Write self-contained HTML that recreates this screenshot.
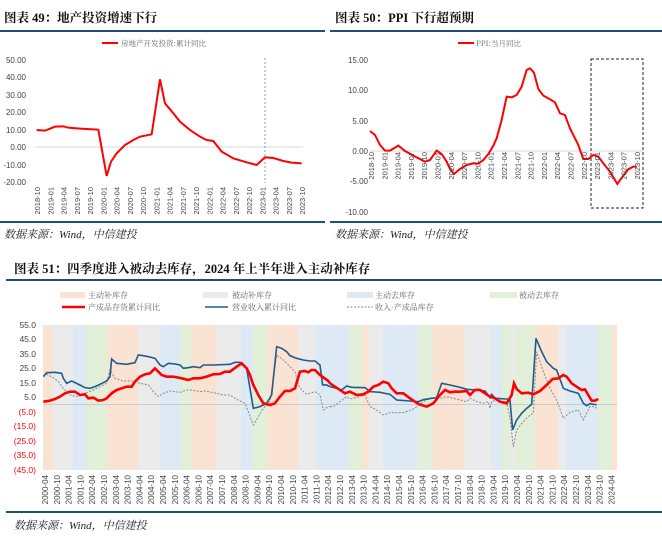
<!DOCTYPE html>
<html><head><meta charset="utf-8"><style>
body{margin:0;background:#fff;width:662px;height:538px;overflow:hidden}
svg{display:block;font-family:"Liberation Sans","Noto Sans CJK SC",sans-serif}
.t{font-family:"Liberation Serif","Noto Serif CJK SC",serif;font-weight:bold;font-size:12.5px;fill:#111}
.s{font-family:"Liberation Serif","Noto Serif CJK SC",serif;font-style:italic;font-size:11px;fill:#222}
.ax{font-size:8px;fill:#444}
.lg{font-size:8px;fill:#666;font-family:"Noto Serif CJK SC",serif}
</style></head><body>
<svg width="662" height="538" viewBox="0 0 662 538">
<!-- Chart 49 -->
<text class="t" x="4" y="22">图表 49：地产投资增速下行</text>
<line x1="0" y1="31" x2="325" y2="31" stroke="#1f4e79" stroke-width="2"/>
<line x1="102" y1="43" x2="118" y2="43" stroke="#f00" stroke-width="2"/>
<text class="lg" x="121" y="46" style="font-size:7.5px">房地产开发投资:累计同比</text>
<g class="ax" text-anchor="end">
<text x="26" y="63">50.00</text><text x="26" y="80">40.00</text><text x="26" y="98">30.00</text><text x="26" y="115">20.00</text><text x="26" y="133">10.00</text><text x="26" y="150">0.00</text><text x="26" y="168">-10.00</text><text x="26" y="185">-20.00</text>
</g>
<line x1="35" y1="147" x2="303" y2="147" stroke="#d9d9d9"/>
<line x1="265" y1="58" x2="265" y2="183" stroke="#999" stroke-dasharray="2,2"/>
<g transform="scale(0.3333)"><polyline fill="none" stroke="#f00" stroke-width="2" vector-effect="non-scaling-stroke" points="110,390 135,392 165,380 190,379 205,383 230,385 260,387 295,389 320,528 333,485 350,460 375,435 400,420 420,410 455,403 480,238 495,310 520,340 540,365 570,390 600,410 620,420 640,423 665,455 700,475 740,487 770,495 795,472 820,474 850,483 875,488 905,490"/></g>
<g class="ax" id="x1"></g>
<line x1="0" y1="222" x2="325" y2="222" stroke="#1f4e79" stroke-width="2"/>
<text class="s" x="4" y="238">数据来源：Wind，中信建投</text>

<!-- Chart 50 -->
<text class="t" x="335" y="22">图表 50：PPI 下行超预期</text>
<line x1="330" y1="31" x2="662" y2="31" stroke="#1f4e79" stroke-width="2"/>
<line x1="458" y1="43" x2="474" y2="43" stroke="#f00" stroke-width="2"/>
<text class="lg" x="476" y="46" style="font-size:7.5px">PPI:当月同比</text>
<g class="ax" text-anchor="end">
<text x="368" y="63">15.00</text><text x="368" y="93">10.00</text><text x="368" y="124">5.00</text><text x="368" y="154">0.00</text><text x="368" y="184">-5.00</text><text x="368" y="215">-10.00</text>
</g>
<line x1="370" y1="151" x2="643" y2="151" stroke="#d9d9d9"/>
<rect x="591" y="59" width="52" height="149" fill="none" stroke="#222" stroke-dasharray="3,2"/>
<g transform="translate(330,0) scale(0.3333)"><polyline fill="none" stroke="#f00" stroke-width="2" vector-effect="non-scaling-stroke" points="120,393 135,405 150,435 165,452 180,452 205,437 225,453 250,467 285,485 300,480 320,452 335,462 350,485 360,507 372,522 390,507 410,495 430,490 445,491 460,480 475,462 490,437 500,415 515,360 530,290 545,292 560,285 575,260 590,210 600,205 612,218 625,267 640,287 655,295 675,307 690,340 705,345 720,385 735,415 745,435 760,477 775,477 790,465 805,470 820,490 840,515 862,552 880,527 895,508 910,500 920,500"/></g>
<g class="ax" id="x2"></g>
<line x1="330" y1="222" x2="662" y2="222" stroke="#1f4e79" stroke-width="2"/>
<text class="s" x="335" y="238">数据来源：Wind，中信建投</text>

<!-- Chart 51 -->
<text class="t" x="14" y="273">图表 51：四季度进入被动去库存，2024 年上半年进入主动补库存</text>
<line x1="6" y1="280" x2="662" y2="280" stroke="#1f4e79" stroke-width="2"/>
<g id="bands"></g>
<line x1="43" y1="404.5" x2="617" y2="404.5" stroke="#ccc"/>
<g transform="translate(0,255) scale(0.3333)" fill="none" vector-effect="non-scaling-stroke">
<polyline stroke="#888" stroke-width="1" stroke-dasharray="2,1.5" vector-effect="non-scaling-stroke" points="130,365 140,358 160,368 175,380 190,400 210,420 230,425 245,418 260,413 280,405 300,395 320,385 330,345 345,370 370,378 400,378 420,385 445,390 460,410 475,425 490,415 510,408 540,412 560,405 575,405 600,410 615,408 640,413 670,420 690,420 710,433 735,445 745,470 760,510 775,485 790,460 810,440 830,300 850,315 870,335 885,350 895,390 905,405 920,418 945,410 960,420 970,465 985,455 990,455"/>
<polyline stroke="#1f5c8b" stroke-width="1.6" vector-effect="non-scaling-stroke" points="130,365 140,353 165,352 185,355 190,370 200,385 215,378 240,390 255,398 270,400 285,395 300,388 320,378 330,365 335,312 350,325 380,328 395,325 405,323 415,300 430,302 445,305 465,310 480,330 490,335 505,325 525,327 540,330 550,340 565,338 580,335 600,338 610,330 640,330 690,328 705,322 720,322 740,340 760,460 780,455 800,445 815,420 830,275 845,280 860,290 870,302 890,310 910,315 930,318 945,318 960,330 968,390 980,390 990,395"/>
<polyline stroke="#f00" stroke-width="2.6" vector-effect="non-scaling-stroke" points="130,440 150,437 165,432 180,425 195,415 210,410 225,410 240,420 255,418 265,430 280,428 295,437 310,435 320,430 335,415 350,405 365,400 380,395 395,395 405,380 420,365 435,358 450,355 465,340 475,350 485,360 500,365 520,365 545,370 565,375 580,370 600,370 620,365 640,358 660,357 675,350 690,350 710,335 725,325 740,340 750,360 760,390 775,420 790,445 810,450 825,445 840,425 855,408 870,408 885,400 900,350 915,348 925,352 935,345 945,345 960,360 985,378 990,385"/>
</g>
<g transform="translate(330,255) scale(0.3333)" fill="none">
<polyline stroke="#888" stroke-width="1" stroke-dasharray="2,1.5" vector-effect="non-scaling-stroke" points="0,455 10,455 30,440 50,425 60,432 90,425 105,420 120,455 140,465 160,480 180,473 220,473 245,465 260,455 280,440 305,428 330,430 350,425 370,430 390,435 410,440 420,430 440,440 460,445 475,440 480,460 485,440 500,435 515,440 530,440 540,490 550,575 560,525 580,500 600,480 610,475 620,290 640,350 660,400 680,435 700,490 720,472 745,465 760,495 770,475 780,455 795,455 800,460"/>
<polyline stroke="#1f5c8b" stroke-width="1.6" vector-effect="non-scaling-stroke" points="0,395 20,400 35,405 50,393 65,397 105,398 120,410 150,412 180,418 200,435 240,438 265,440 280,434 305,430 320,428 335,385 360,390 390,397 410,403 440,405 465,408 480,428 485,418 495,430 530,432 540,435 548,525 560,495 575,475 590,460 605,448 618,250 635,290 650,320 670,340 680,345 700,400 720,408 745,415 760,445 770,452 780,446 790,448 800,449"/>
<polyline stroke="#f00" stroke-width="2.6" vector-effect="non-scaling-stroke" points="0,385 15,395 45,415 60,410 80,420 100,418 115,410 130,395 145,390 160,380 175,385 185,400 200,415 220,415 240,430 265,447 290,455 310,445 330,420 345,405 360,412 375,410 390,410 410,408 420,420 435,405 450,405 465,415 480,425 495,430 510,440 530,445 545,420 552,385 560,402 575,415 595,413 610,418 630,408 650,390 668,372 685,370 700,360 710,365 725,385 740,395 755,405 765,403 775,420 785,437 795,437 805,432"/>
</g>
<g class="ax" style="font-size:8.5px" text-anchor="end">
<text x="36" y="328">55.0</text><text x="36" y="342">45.0</text><text x="36" y="357">35.0</text><text x="36" y="371">25.0</text><text x="36" y="386">15.0</text><text x="36" y="400">5.0</text>
<g fill="#f00"><text x="36" y="415">(5.0)</text><text x="36" y="429">(15.0)</text><text x="36" y="444">(25.0)</text><text x="36" y="458">(35.0)</text><text x="36" y="473">(45.0)</text></g>
</g>
<!-- legend -->
<rect x="60" y="292" width="25" height="6" fill="#fbe3d4"/><text class="lg" x="88" y="298">主动补库存</text>
<rect x="203" y="292" width="25" height="6" fill="#ebebeb"/><text class="lg" x="232" y="298">被动补库存</text>
<rect x="347" y="292" width="26" height="6" fill="#dde9f5"/><text class="lg" x="375" y="298">主动去库存</text>
<rect x="490" y="292" width="27" height="6" fill="#e2efd9"/><text class="lg" x="519" y="298">被动去库存</text>
<line x1="62" y1="307" x2="85" y2="307" stroke="#f00" stroke-width="2.5"/><text class="lg" x="88" y="310">产成品存货累计同比</text>
<line x1="205" y1="307" x2="228" y2="307" stroke="#1f5c8b" stroke-width="1.6"/><text class="lg" x="232" y="310">营业收入累计同比</text>
<line x1="347" y1="307" x2="373" y2="307" stroke="#888" stroke-dasharray="2,1.5"/><text class="lg" x="375" y="310">收入-产成品库存</text>
<g class="ax" id="x3"></g>
<line x1="6" y1="512" x2="662" y2="512" stroke="#1f4e79" stroke-width="2"/>
<text class="s" x="14" y="529">数据来源：Wind，中信建投</text>
</svg>
<script>
var NS="http://www.w3.org/2000/svg";
function lab(g,x,y,t,fs){var e=document.createElementNS(NS,"text");e.setAttribute("transform","translate("+(x+3)+","+y+") rotate(-90)");e.setAttribute("text-anchor","end");if(fs)e.setAttribute("font-size",fs);e.textContent=t;g.appendChild(e);}
var g1=document.getElementById("x1"),g2=document.getElementById("x2"),g3=document.getElementById("x3");
var ms=["01","04","07","10"];
for(var i=0;i<21;i++){var m=(9+i*3),yr=2018+Math.floor(m/12),mo=("0"+(m%12+1)).slice(-2);var t=yr+"-"+mo;
lab(g1,37+i*13.25,187,t,"7.5");lab(g2,371+i*13.3,152,t,"7.5");}
for(var i=0;i<49;i++){var yr=2000+Math.floor(i/2),t=yr+"-"+(i%2?"10":"04");lab(g3,45+i*11.8,475,t,"8");}
var b=[[43,52,"o"],[52,73,"g"],[73,86,"b"],[86,107,"e"],[107,138,"o"],[138,160,"g"],[160,180,"b"],[180,191,"e"],[191,217,"o"],[217,241,"g"],[241,253,"b"],[253,267,"e"],[267,298,"o"],[298,316,"g"],[316,349,"b"],[349,362,"e"],[362,369,"o"],[369,383,"g"],[383,418,"b"],[418,433,"e"],[433,465,"o"],[465,491,"g"],[491,502,"b"],[502,510,"e"],[510,515,"g"],[515,535,"e"],[535,558,"o"],[558,566,"g"],[566,598,"b"],[598,612,"e"],[612,617,"o"]];
var c={o:"#fbe3d4",g:"#ebebeb",b:"#dde9f5",e:"#e2efd9"};var gb=document.getElementById("bands");
b.forEach(function(r){var e=document.createElementNS(NS,"rect");e.setAttribute("x",r[0]);e.setAttribute("y",325);e.setAttribute("width",r[1]-r[0]);e.setAttribute("height",145);e.setAttribute("fill",c[r[2]]);gb.appendChild(e);});
</script>
</body></html>
